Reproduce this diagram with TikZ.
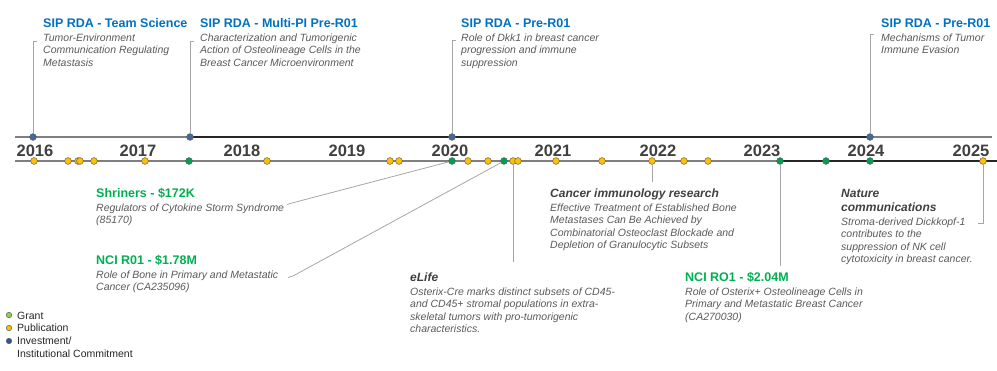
\documentclass[tikz,border=0pt]{standalone}
\usepackage{fontspec}
\setmainfont{Liberation Sans}
\usetikzlibrary{positioning}
\definecolor{sipblue}{HTML}{0070C0}
\definecolor{grantgreen}{HTML}{00B050}
\definecolor{txtgray}{HTML}{595959}
\definecolor{darkhead}{HTML}{404040}
\definecolor{pubyel}{HTML}{FFC000}
\definecolor{dotgreen}{HTML}{00A050}
\definecolor{dotblue}{HTML}{44679C}
\definecolor{leggreen}{HTML}{92D050}
\definecolor{legblue}{HTML}{2F5597}
\definecolor{axisgray}{HTML}{7F7F7F}
\definecolor{lngray}{HTML}{A6A6A6}
\tikzset{
  dot/.style={circle, draw=black!65, line width=0.5pt, inner sep=0pt, minimum size=6.8pt},
  pub/.style={dot, fill=pubyel},
  grant/.style={dot, fill=dotgreen},
  invest/.style={dot, fill=dotblue},
  yr/.style={font=\fontsize{16.5}{18}\selectfont\bfseries, text=darkhead, inner sep=0pt},
  head/.style={anchor=north west, inner sep=0pt, align=left, font=\fontsize{12.5}{14}\selectfont\bfseries},
  sip/.style={head, text=sipblue},
  fund/.style={head, text=grantgreen},
  jrnl/.style={head, text=darkhead, font=\fontsize{12}{14}\selectfont\bfseries\itshape},
  desc/.style={anchor=north west, inner sep=0pt, align=left, text=txtgray, font=\fontsize{10.5}{12.5}\selectfont\itshape},
  leg/.style={anchor=north west, inner sep=0pt, align=left, text=black!85, font=\fontsize{10.5}{12.7}\selectfont},
  conn/.style={draw=lngray, line width=0.8pt},
  axis/.style={line width=1.2pt}
}

\begin{document}
\begin{tikzpicture}[x=1pt, y=-1pt]
\useasboundingbox (0,0) rectangle (997,370);
\draw[axis, axisgray] (15,137) -- (190,137);
\draw[axis, black!85] (190,137) -- (870,137);
\draw[axis, axisgray] (870,137) -- (992,137);
\draw[axis, axisgray] (15,161) -- (780,161);
\draw[axis, black!85] (780,161) -- (997,161);

\foreach \y/\x in {2016/35,2017/138,2018/242,2019/347,2020/450,2021/553,2022/658,2023/762,2024/866,2025/971}
  \node[yr] (y\y) at (\x,151) {\y};

\foreach \x [count=\i] in {33,190,452,870} \node[invest] (b\i) at (\x,137) {};
\foreach \x [count=\i] in {34,68,78,80,94,145,267,390,399,468,488,513,518,556,602,652,684,708,983}
  \node[pub] (p\i) at (\x,161) {};
\foreach \x [count=\i] in {189,452,504,780,826,870} \node[grant] (g\i) at (\x,161) {};

% investments
\node[sip] (t1) at (43,17.7) {\strut SIP RDA - Team Science};
\node[desc] (d1) at (t1.south west) {\strut Tumor-Environment\\Communication Regulating\\Metastasis};
\node[sip] (t2) at (200,17.7) {\strut SIP RDA - Multi-PI Pre-R01};
\node[desc] (d2) at (t2.south west) {\strut Characterization and Tumorigenic\\Action of Osteolineage Cells in the\\Breast Cancer Microenvironment};
\node[sip] (t3) at (461,17.7) {\strut SIP RDA - Pre-R01};
\node[desc] (d3) at (t3.south west) {\strut Role of Dkk1 in breast cancer\\progression and immune\\suppression};
\node[sip] (t4) at (881,17.7) {\strut SIP RDA - Pre-R01};
\node[desc] (d4) at (t4.south west) {\strut Mechanisms of Tumor\\Immune Evasion};
\coordinate (k1) at (37,41.7);
\coordinate (k2) at (194,41.7);
\coordinate (k3) at (456,40);
\coordinate (k4) at (874,34.5);
\foreach \i in {1,...,4} \draw[conn] (b\i) |- (k\i);

% grants and papers
\node[fund] (t5) at (96,187.7) {\strut Shriners - \$172K};
\node[desc] (d5) at (t5.south west) {\strut Regulators of Cytokine Storm Syndrome\\(85170)};
\node[fund] (t6) at (96,254.7) {\strut NCI R01 - \$1.78M};
\node[desc] (d6) at (t6.south west) {\strut Role of Bone in Primary and Metastatic\\Cancer (CA235096)};
\node[jrnl] (t7) at (410,271.7) {\strut eLife};
\node[desc] (d7) at (t7.south west) {\strut Osterix-Cre marks distinct subsets of CD45-\\and CD45+ stromal populations in extra-\\skeletal tumors with pro-tumorigenic\\characteristics.};
\node[jrnl] (t8) at (550,187.7) {\strut Cancer immunology research};
\node[desc] (d8) at (t8.south west) {\strut Effective Treatment of Established Bone\\Metastases Can Be Achieved by\\Combinatorial Osteoclast Blockade and\\Depletion of Granulocytic Subsets};
\node[fund] (t9) at (685,271.7) {\strut NCI RO1 - \$2.04M};
\node[desc] (d9) at (t9.south west) {\strut Role of Osterix+ Osteolineage Cells in\\Primary and Metastatic Breast Cancer\\(CA270030)};
\node[jrnl] (t10) at (841,187.7) {\strut Nature\\communications\strut};
\node[desc] (d10) at (t10.south west) {\strut Stroma-derived Dickkopf-1\\contributes to the\\suppression of NK cell\\cytotoxicity in breast cancer.};

\coordinate (k5a) at (292,203); \coordinate (k5b) at (287,204.5);
\coordinate (k6a) at (293,276); \coordinate (k6b) at (288,277.5);
\coordinate (k7) at (513,262);
\coordinate (k8) at (652,182);
\coordinate (k9) at (780,266);
\coordinate (k10) at (978,223.5);
\draw[conn] (g2) -- (k5a) -- (k5b);
\draw[conn] (g3) -- (k6a) -- (k6b);
\draw[conn] (p12) -- (k7);
\draw[conn] (p16) -- (k8);
\draw[conn] (g4) -- (k9);
\draw[conn] (p19) |- (k10);

% legend
\node[dot, fill=leggreen, minimum size=5.5pt] (l1) at (9,315) {};
\node[dot, fill=pubyel, minimum size=5.5pt] (l2) at (9,328) {};
\node[dot, fill=legblue, minimum size=5.5pt] (l3) at (9,341) {};
\node[leg] (n1) at (17,310.6) {\strut Grant};
\node[leg] (n2) at (17,322.9) {\strut Publication};
\node[leg] (n3) at (17,335.9) {\strut Investment/\\Institutional Commitment};
\end{tikzpicture}
\end{document}
